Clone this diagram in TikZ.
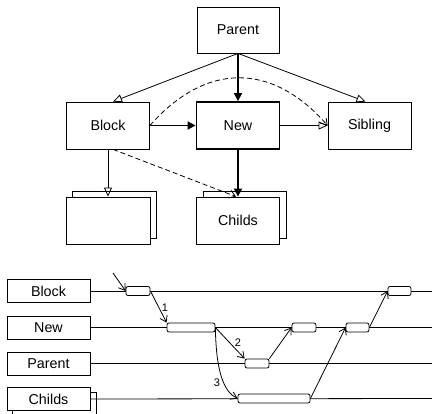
\documentclass[tikz,border=0pt]{standalone}
\usepackage{fontspec}
\setmainfont{Liberation Sans}
\usetikzlibrary{arrows.meta,calc}
\tikzset{
  every node/.style={font=\fontsize{14.3}{17}\selectfont},
  bx/.style={draw, line width=0.8pt, fill=white, minimum width=83pt, minimum height=47pt, inner sep=0pt},
  thickbx/.style={bx, line width=1.8pt},
  lbl/.style={draw, line width=0.8pt, fill=white, minimum width=83pt, minimum height=23pt, inner sep=0pt},
  bar/.style={draw, line width=0.8pt, fill=white, rounded corners=2pt, minimum height=9pt, inner sep=0pt},
  thin/.style={line width=0.8pt},
  opentri/.style={thin, -{Triangle[open,length=9pt,width=8pt]}},
  filltri/.style={line width=1.8pt, -{Triangle[length=8pt,width=8pt]}},
  vee/.style={thin, -{Straight Barb[length=6pt,width=8pt]}},
  dsh/.style={vee, dash pattern=on 5pt off 3pt},
  lifeline/.style={thin},
  num/.style={font=\fontsize{11}{13}\selectfont, inner sep=0pt}
}
\begin{document}
\begin{tikzpicture}[x=1pt,y=-1pt]
\useasboundingbox (0,0) rectangle (432,414);
% ---- top diagram ----
\node[bx, minimum width=82pt, minimum height=46pt] (Parent) at (238,30) {Parent};
\node[bx] (Block) at (108,125.5) {Block};
\node[thickbx] (New) at (238,125.5) {New};
\node[bx] (Sibling) at (369.5,125.5) {Sibling};
\node[bx, minimum width=84pt] (LB) at (114,215) {};
\node[bx, minimum width=84pt] (LF) at (108,220.5) {};
\node[bx] (CB) at (244.5,215) {};
\node[bx] (CF) at (238,220.5) {Childs};

\draw[opentri] (Parent.south) -- ($(Block.north)+(5,0)$);
\draw[opentri] (Parent.south) -- ($(Sibling.north)+(-4,0)$);
\draw[filltri] (Parent.south) -- (New.north);
\draw[filltri] (Block.east) -- (New.west);
\draw[opentri] (New.east) -- (Sibling.west);
\draw[dsh] (Block.east) .. controls (206,62) and (272,62) .. (Sibling.west);
\draw[opentri] (Block.south) -- (LF.north);
\draw[dsh] ($(Block.south)+(5,0)$) -- ($(CF.north)+(-2,0)$);
\draw[filltri] (New.south) -- (CF.north);

% ---- timeline ----
\node[lbl] (LBlock) at (48.5,291) {Block};
\node[lbl] (LNew) at (48.5,327.5) {New};
\node[lbl] (LParent) at (48.5,363.5) {Parent};
\node[lbl, minimum width=84pt] (LChildsB) at (54,403.5) {};
\node[lbl] (LChilds) at (48.5,399) {Childs};

\coordinate (EBlock) at (432,291);
\coordinate (ENew) at (432,327.5);
\coordinate (EParent) at (432,363.5);
\coordinate (EChilds) at (432,398.5);
\draw[lifeline] (LBlock.east) -- (EBlock);
\draw[lifeline] (LNew.east) -- (ENew);
\draw[lifeline] (LParent.east) -- (EParent);
\draw[lifeline] (LChilds.east) -- (EChilds);

\node[bar, minimum width=24pt] (b1) at (138,291) {};
\node[bar, minimum width=48pt] (n1) at (191,327.5) {};
\node[bar, minimum width=24pt] (p1) at (257,363.5) {};
\node[bar, minimum width=24pt] (n2) at (304,327.5) {};
\node[bar, minimum width=72pt] (c1) at (274,398.5) {};
\node[bar, minimum width=23pt] (n3) at (357.5,327.5) {};
\node[bar, minimum width=23pt] (b2) at (399.5,291) {};

\coordinate (start) at (113,273);
\draw[vee] (start) -- (b1.west);
\draw[vee] (b1.east) -- (n1.north west);
\node[num] (l1) at (165,308) {1};
\draw[vee] (n1.east) -- (p1.north west);
\node[num] (l2) at (238,343) {2};
\draw[vee] (n1.east) .. controls (216,372) and (224,392) .. (c1.west);
\node[num] (l3) at (217,383) {3};
\draw[vee] (p1.north east) -- (n2.west);
\draw[vee] (c1.east) -- (n3.west);
\draw[vee] (n3.east) -- (b2.west);
\end{tikzpicture}
\end{document}
